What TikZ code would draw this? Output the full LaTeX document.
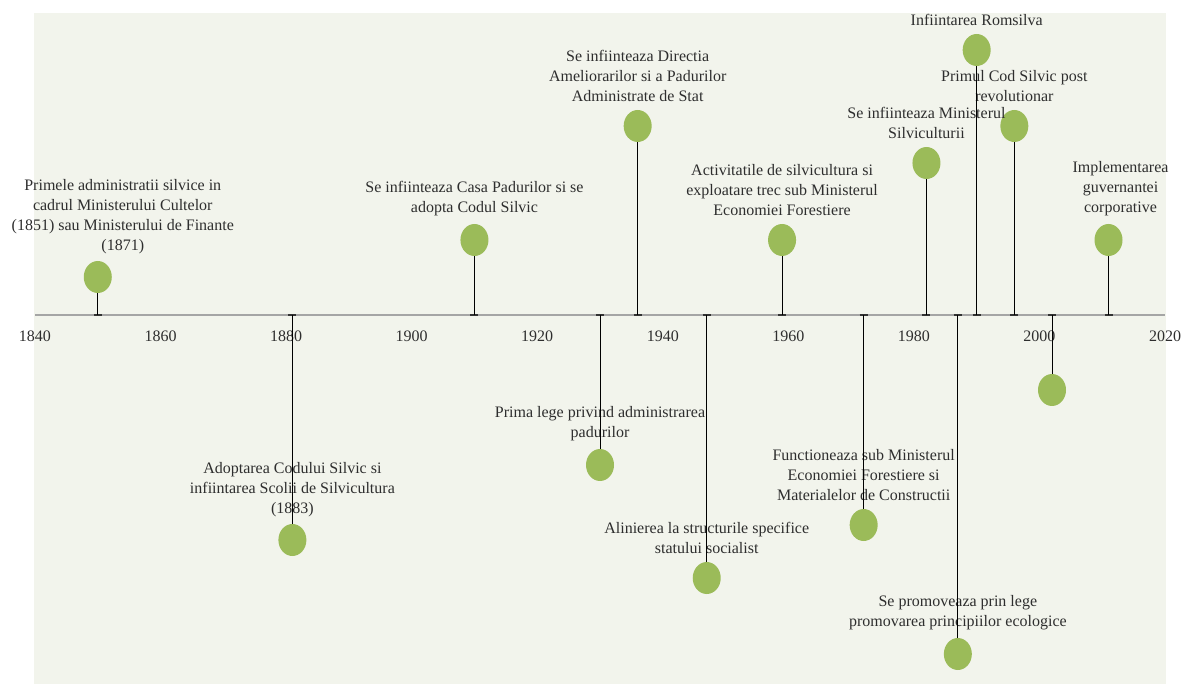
\documentclass[tikz,border=0pt]{standalone}
\usepackage{fontspec}
\setmainfont{Liberation Serif}
\usetikzlibrary{positioning,shapes.geometric}
\definecolor{leaf}{HTML}{9BBB59}
\definecolor{paper}{HTML}{F2F4EC}
\definecolor{axisgray}{HTML}{A5A5A5}
\definecolor{ink}{HTML}{2E2E2E}
\newcommand{\yearx}[1]{35+(#1-1840)*6.2778}
\tikzset{
	dot/.style={
		ellipse,
		fill=leaf,
		minimum width=28pt,
		minimum height=32pt,
		inner sep=0pt,
	},
	event/.style={
		align=center,
		text=ink,
		inner sep=1pt,
		font=\fontsize{16}{20}\selectfont,
	},
	stem/.style={draw=black, line width=1pt},
	tickmark/.style={draw=black!80, line width=1.5pt},
}

\begin{document}
\begin{tikzpicture}[x=1pt,y=-1pt]
	\useasboundingbox (0,0) rectangle (1186,684);
	\fill[paper] (34,13) rectangle (1166,684);
	
	% time axis
	\draw[axisgray, line width=2pt] (35,315) -- (1165,315);
	\foreach \yr in {1840,1860,...,2020}
	\node[event] (y\yr) at ({\yearx{\yr}},336) {\yr};
	
	% events above the axis
	\node[dot] (E1850) at ({\yearx{1850}},277) {};
	\node[dot] (E1910) at ({\yearx{1910}},240) {};
	\node[dot] (E1936) at ({\yearx{1936}},126) {};
	\node[dot] (E1959) at ({\yearx{1959}},240) {};
	\node[dot] (E1982) at ({\yearx{1982}},163) {};
	\node[dot] (E1990) at ({\yearx{1990}},50) {};
	\node[dot] (E1996) at ({\yearx{1996}},126) {};
	\node[dot] (E2011) at ({\yearx{2011}},240) {};
	
	% events below the axis
	\node[dot] (E1881) at ({\yearx{1881}},540) {};
	\node[dot] (E1930) at ({\yearx{1930}},465) {};
	\node[dot] (E1947) at ({\yearx{1947}},578) {};
	\node[dot] (E1972) at ({\yearx{1972}},525) {};
	\node[dot] (E1987) at ({\yearx{1987}},654) {};
	\node[dot] (E2002) at ({\yearx{2002}},390) {};
	
	% labels
	\node[event, above=6pt of E1850, xshift=25pt]
	{Primele administratii silvice in\\cadrul Ministerului Cultelor\\(1851) sau Ministerului de Finante\\(1871)};
	\node[event, above=6pt of E1881]
	{Adoptarea Codului Silvic si\\infiintarea Scolii de Silvicultura\\(1883)};
	\node[event, above=7pt of E1910]
	{Se infiinteaza Casa Padurilor si se\\adopta Codul Silvic};
	\node[event, above=7pt of E1930]
	{Prima lege privind administrarea\\padurilor};
	\node[event, above=7pt of E1936]
	{Se infiinteaza Directia\\Ameliorarilor si a Padurilor\\Administrate de Stat};
	\node[event, above=7pt of E1947]
	{Alinierea la structurile specifice\\statului socialist};
	\node[event, above=7pt of E1959]
	{Activitatile de silvicultura si\\exploatare trec sub Ministerul\\Economiei Forestiere};
	\node[event, above=7pt of E1972]
	{Functioneaza sub Ministerul\\Economiei Forestiere si\\Materialelor de Constructii};
	\node[event, above=7pt of E1982]
	{Se infiinteaza Ministerul\\Silviculturii};
	\node[event, above=7pt of E1987]
	{Se promoveaza prin lege\\promovarea principiilor ecologice};
	\node[event, above=7pt of E1990]
	{Infiintarea Romsilva};
	\node[event, above=7pt of E1996]
	{Primul Cod Silvic post\\revolutionar};
	\node[event, above=7pt of E2011, xshift=12pt]
	{Implementarea\\guvernantei\\corporative};
	
	% stems
	\foreach \yr in {1850,1881,1910,1930,1936,1947,1959,1972,1982,1987,1990,1996,2002,2011}{
		\coordinate (A\yr) at ({\yearx{\yr}},315);
		\draw[tickmark] ([xshift=-4pt]A\yr) -- ([xshift=4pt]A\yr);
		\draw[stem] (A\yr) -- (E\yr);
	}
	
\end{tikzpicture}
\end{document}
